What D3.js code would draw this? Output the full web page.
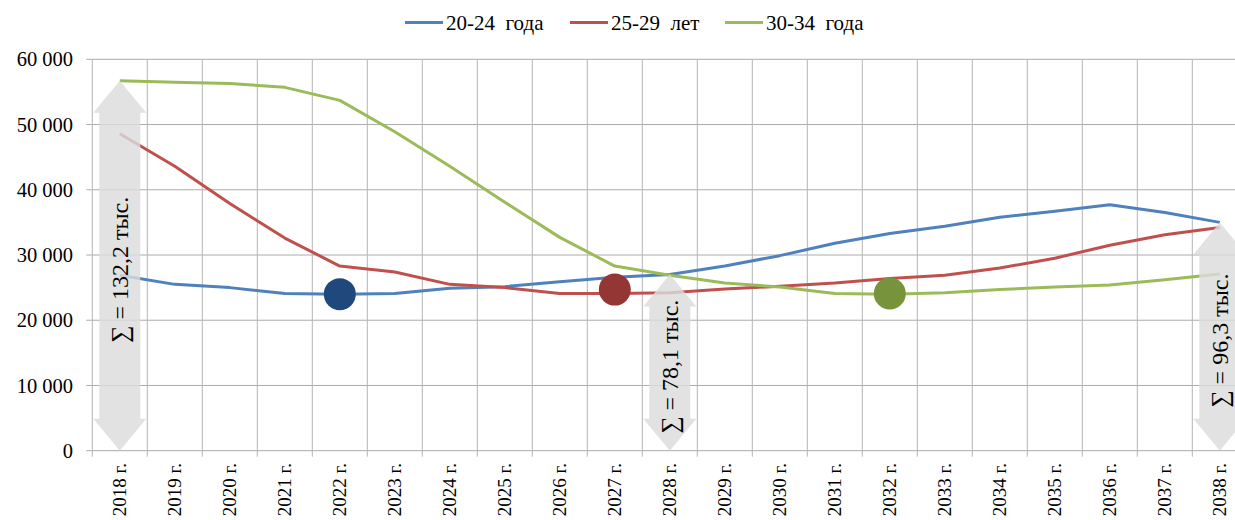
<!DOCTYPE html>
<html>
<head>
<meta charset="utf-8">
<script src="https://cdn.jsdelivr.net/npm/d3@7"></script>
<style>
  html, body { margin: 0; padding: 0; background: #fff; }
  svg { display: block; }
  svg text { font-family: 'Liberation Serif', 'DejaVu Serif', 'Noto Serif', serif; }
</style>
</head>
<body>
<svg id="chart" width="1235" height="520"></svg>
<script>
const categories = ["2018 г.","2019 г.","2020 г.","2021 г.","2022 г.","2023 г.","2024 г.","2025 г.","2026 г.","2027 г.","2028 г.","2029 г.","2030 г.","2031 г.","2032 г.","2033 г.","2034 г.","2035 г.","2036 г.","2037 г.","2038 г."];
const seriesNames = ["20-24 года", "25-29 лет", "30-34 года"];
const age20_24 = [26900, 25500, 25000, 24100, 24000, 24100, 24900, 25150, 25900, 26600, 27000, 28300, 29900, 31800, 33300, 34400, 35800, 36700, 37700, 36500, 35000];
const age25_29 = [48600, 43600, 37900, 32600, 28300, 27400, 25500, 25000, 24100, 24100, 24200, 24800, 25200, 25700, 26400, 26900, 28000, 29500, 31500, 33100, 34200];
const age30_34 = [56700, 56500, 56300, 55700, 53700, 48900, 43600, 38100, 32700, 28300, 26900, 25700, 25100, 24100, 24000, 24200, 24700, 25100, 25400, 26200, 27100];
const yTicks = [0, 10000, 20000, 30000, 40000, 50000, 60000];
const markerCategories = ["2022 г.", "2027 г.", "2032 г."];
const markerValues = [24000, 24700, 24100];
const arrowCategories = ["2018 г.", "2028 г.", "2038 г."];
const arrowLabels = ["∑ = 132,2 тыс.", "∑ = 78,1 тыс.", "∑ = 96,3 тыс."];

const lineColors = ["#4F81BD", "#C0504D", "#9BBB59"];
const markerColors = ["#1F497D", "#943634", "#77933C"];
const allSeries = [age20_24, age25_29, age30_34];

(function () {
const svg = d3.select("#chart");
const pLeft = 92.3, pTop = 59.3, pBottom = 450.7, step = 55;
const x = d3.scaleBand().domain(categories).range([pLeft, pLeft + step * categories.length]).padding(0);
const y = d3.scaleLinear().domain([0, 60000]).range([pBottom, pTop]);
const cx = c => x(c) + x.bandwidth() / 2;

const grid = svg.append("g");
grid.selectAll("line.h").data(yTicks).enter().append("line")
  .attr("x1", pLeft - 6).attr("x2", pLeft + step * categories.length)
  .attr("y1", d => y(d)).attr("y2", d => y(d))
  .attr("stroke", "#ABABAB").attr("stroke-width", 1);
const bounds = categories.map(c => x(c)).concat([x(categories[categories.length-1]) + x.bandwidth()]);
grid.selectAll("line.v").data(bounds).enter().append("line")
  .attr("x1", d => d).attr("x2", d => d)
  .attr("y1", pTop).attr("y2", pBottom + 6)
  .attr("stroke", "#B5B5B5").attr("stroke-width", 1);

const fmt = v => d3.format(",")(v).replace(/,/g, "\u00A0");
svg.append("g").selectAll("text").data(yTicks).enter().append("text")
  .attr("x", 73).attr("y", d => y(d)).attr("dy", "0.35em")
  .attr("text-anchor", "end").attr("font-size", 20.5)
  .text(d => fmt(d));

svg.append("g").selectAll("text").data(categories).enter().append("text")
  .attr("transform", d => `translate(${cx(d)},463) rotate(-90)`)
  .attr("dy", "0.35em").attr("text-anchor", "end").attr("font-size", 19)
  .text(d => d);

const line = d3.line().x((d, i) => cx(categories[i])).y(d => y(d));
svg.append("g").selectAll("path").data(allSeries).enter().append("path")
  .attr("d", d => line(d)).attr("fill", "none")
  .attr("stroke", (d, i) => lineColors[i]).attr("stroke-width", 3)
  .attr("stroke-linejoin", "round");

const headHW = 26.5, shaftHW = 20.5, headH = 32;
const arrows = svg.append("g");
arrowCategories.forEach((c, k) => {
  const idx = categories.indexOf(c);
  const topV = Math.max(age20_24[idx], age25_29[idx], age30_34[idx]);
  const xc = cx(c), yt = y(topV), yb = y(0);
  const p = d3.path();
  p.moveTo(xc, yt);
  p.lineTo(xc + headHW, yt + headH);
  p.lineTo(xc + shaftHW, yt + headH);
  p.lineTo(xc + shaftHW, yb - headH);
  p.lineTo(xc + headHW, yb - headH);
  p.lineTo(xc, yb);
  p.lineTo(xc - headHW, yb - headH);
  p.lineTo(xc - shaftHW, yb - headH);
  p.lineTo(xc - shaftHW, yt + headH);
  p.lineTo(xc - headHW, yt + headH);
  p.closePath();
  arrows.append("path").attr("d", p.toString())
    .attr("fill", "#DCDCDC").attr("fill-opacity", 0.82);
  arrows.append("text")
    .attr("transform", `translate(${xc},${(yt + yb) / 2 + 4}) rotate(-90)`)
    .attr("text-anchor", "middle").attr("dy", "0.35em").attr("font-size", 24)
    .text(arrowLabels[k]);
});

svg.append("g").selectAll("circle").data(markerCategories).enter().append("circle")
  .attr("cx", d => cx(d)).attr("cy", (d, i) => y(markerValues[i]))
  .attr("r", 16).attr("fill", (d, i) => markerColors[i]);

const legendX = [405, 570, 725];
const lg = svg.append("g");
seriesNames.forEach((n, i) => {
  lg.append("line").attr("x1", legendX[i]).attr("x2", legendX[i] + 38)
    .attr("y1", 22.5).attr("y2", 22.5).attr("stroke", lineColors[i]).attr("stroke-width", 3);
  lg.append("text")
    .attr("x", legendX[i] + 41).attr("y", 22.5).attr("dy", "0.35em")
    .attr("font-size", 21).style("white-space", "pre").text(n.replace(" ", "  "));
});
})();
</script>
</body>
</html>
